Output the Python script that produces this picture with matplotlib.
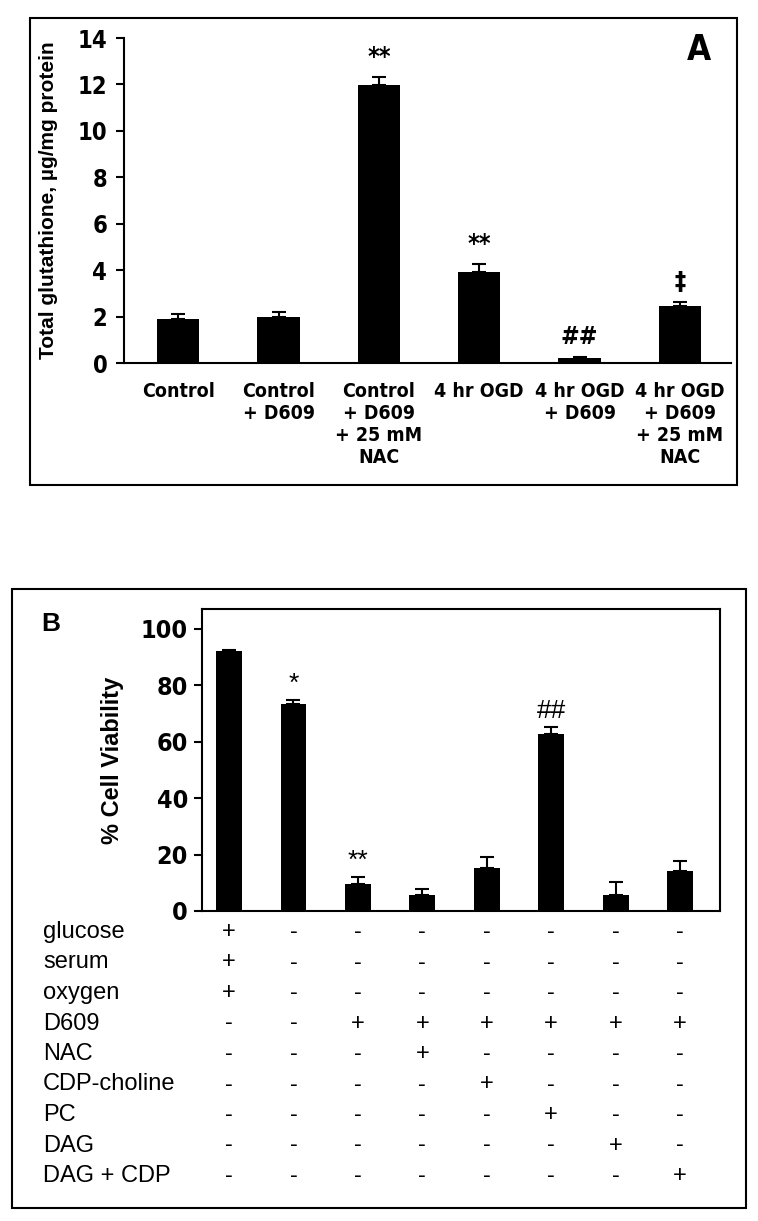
import numpy as np
import matplotlib
matplotlib.use("Agg")
import matplotlib.pyplot as plt
import matplotlib.transforms as mtransforms
from matplotlib.patches import Rectangle
from matplotlib import font_manager

# Panel A data: total glutathione (ug/mg protein)
a_labels = ["Control", "Control\n+ D609", "Control\n+ D609\n+ 25 mM\nNAC",
            "4 hr OGD", "4 hr OGD\n+ D609", "4 hr OGD\n+ D609\n+ 25 mM\nNAC"]
a_values = [1.9, 2.0, 11.98, 3.93, 0.21, 2.44]
a_errors = [0.2, 0.2, 0.34, 0.32, 0.05, 0.2]
a_marks = ["", "", "**", "**", "##", "\u2021"]

# Panel B data: % cell viability
b_values = [92.2, 73.3, 9.5, 5.6, 15.2, 62.7, 5.8, 14.3]
b_errors = [0.4, 1.4, 2.4, 2.3, 4.0, 2.5, 4.3, 3.5]
b_marks = ["", "*", "**", "", "", "##", "", ""]
row_names = ["glucose", "serum", "oxygen", "D609", "NAC", "CDP-choline",
             "PC", "DAG", "DAG + CDP"]
row_signs = ["+-------",
             "+-------",
             "+-------",
             "--++++++",
             "---+----",
             "----+---",
             "-----+--",
             "------+-",
             "-------+"]

plt.rcParams['font.family'] = ['Liberation Sans', 'DejaVu Sans']

# look for a condensed bold face for panel A (Arial Narrow look), else plain bold
narrow_file = None
for f in font_manager.fontManager.ttflist:
    fn = f.fname.lower()
    if ("narrow" in fn or "condensed" in fn) and "bold" in fn and "oblique" not in fn \
            and "italic" not in fn and "sans" in fn and "mono" not in fn:
        narrow_file = f.fname
        break
if narrow_file:
    def nfont(size):
        return font_manager.FontProperties(fname=narrow_file, size=size)
else:
    def nfont(size):
        return font_manager.FontProperties(family="Liberation Sans", weight="bold", size=size)

W, H = 758, 1221
fig = plt.figure(figsize=(W / 100, H / 100), dpi=100)

def fx(px):
    return px / W

def fy(py):
    return 1 - py / H

# outer frames
fig.patches.append(Rectangle((fx(30), fy(485)), fx(707), 467 / H, transform=fig.transFigure,
                             fill=False, lw=1.5, ec="black"))
fig.patches.append(Rectangle((fx(12), fy(1208)), fx(734), 619 / H, transform=fig.transFigure,
                             fill=False, lw=1.5, ec="black"))

# ---------------- Panel A ----------------
axA = fig.add_axes([fx(124), fy(363), fx(607), 325 / H])
xa = np.arange(len(a_values))
axA.bar(xa, a_values, width=0.42, color="black",
        yerr=[np.zeros(len(a_errors)), a_errors],
        error_kw=dict(ecolor="black", capsize=5, elinewidth=1.5, capthick=1.5))
axA.set_ylim(0, 14)
axA.set_xlim(-0.54, 5.51)
axA.set_yticks(range(0, 15, 2))
axA.set_yticklabels([str(v) for v in range(0, 15, 2)], fontproperties=nfont(17))
axA.set_xticks(xa)
axA.set_xticklabels(a_labels, fontproperties=nfont(14), linespacing=1.2, va="top")
axA.tick_params(axis="x", length=0, pad=14)
axA.tick_params(axis="y", direction="out", length=6, width=1.5, pad=6)
for s in ["top", "right"]:
    axA.spines[s].set_visible(False)
for s in ["left", "bottom"]:
    axA.spines[s].set_linewidth(1.5)
axA.set_ylabel("Total glutathione, \u00b5g/mg protein", fontweight="bold",
               fontsize=15, labelpad=14)
for i, m in enumerate(a_marks):
    if m:
        axA.text(xa[i], a_values[i] + a_errors[i] + 0.35, m, ha="center", va="bottom",
                 fontproperties=nfont(18))
fig.text(fx(699), fy(50), "A", fontproperties=nfont(25), ha="center", va="center")

# ---------------- Panel B ----------------
axB = fig.add_axes([fx(202), fy(911), fx(518), 302 / H])
xb = np.arange(len(b_values))
axB.bar(xb, b_values, width=0.4, color="black",
        yerr=[np.zeros(len(b_errors)), b_errors],
        error_kw=dict(ecolor="black", capsize=5, elinewidth=1.5, capthick=1.5))
axB.set_ylim(0, 107)
axB.set_xlim(-0.42, 7.62)
axB.set_yticks(range(0, 101, 20))
axB.set_yticklabels([str(v) for v in range(0, 101, 20)], fontproperties=nfont(18))
axB.set_xticks([])
axB.tick_params(axis="y", direction="out", length=6, width=1.5, pad=4)
for s in axB.spines.values():
    s.set_linewidth(1.5)
axB.set_ylabel("% Cell Viability", fontweight="bold", fontsize=17, labelpad=12)
for i, m in enumerate(b_marks):
    if m:
        axB.text(xb[i], b_values[i] + b_errors[i] + 1.5, m, ha="center", va="bottom",
                 fontsize=19)
fig.text(fx(51), fy(624), "B", fontweight="bold", fontsize=19, ha="center", va="center")

# treatment table under panel B
trans = mtransforms.blended_transform_factory(axB.transData, fig.transFigure)
for r, (name, signs) in enumerate(zip(row_names, row_signs)):
    ypix = 932 + 30.5 * r
    fig.text(fx(43), fy(ypix), name, fontsize=17, ha="left", va="center")
    for c, sgn in enumerate(signs):
        axB.text(xb[c], fy(ypix), sgn, transform=trans, fontsize=17,
                 ha="center", va="center")

fig.savefig("out.png", dpi=100)
